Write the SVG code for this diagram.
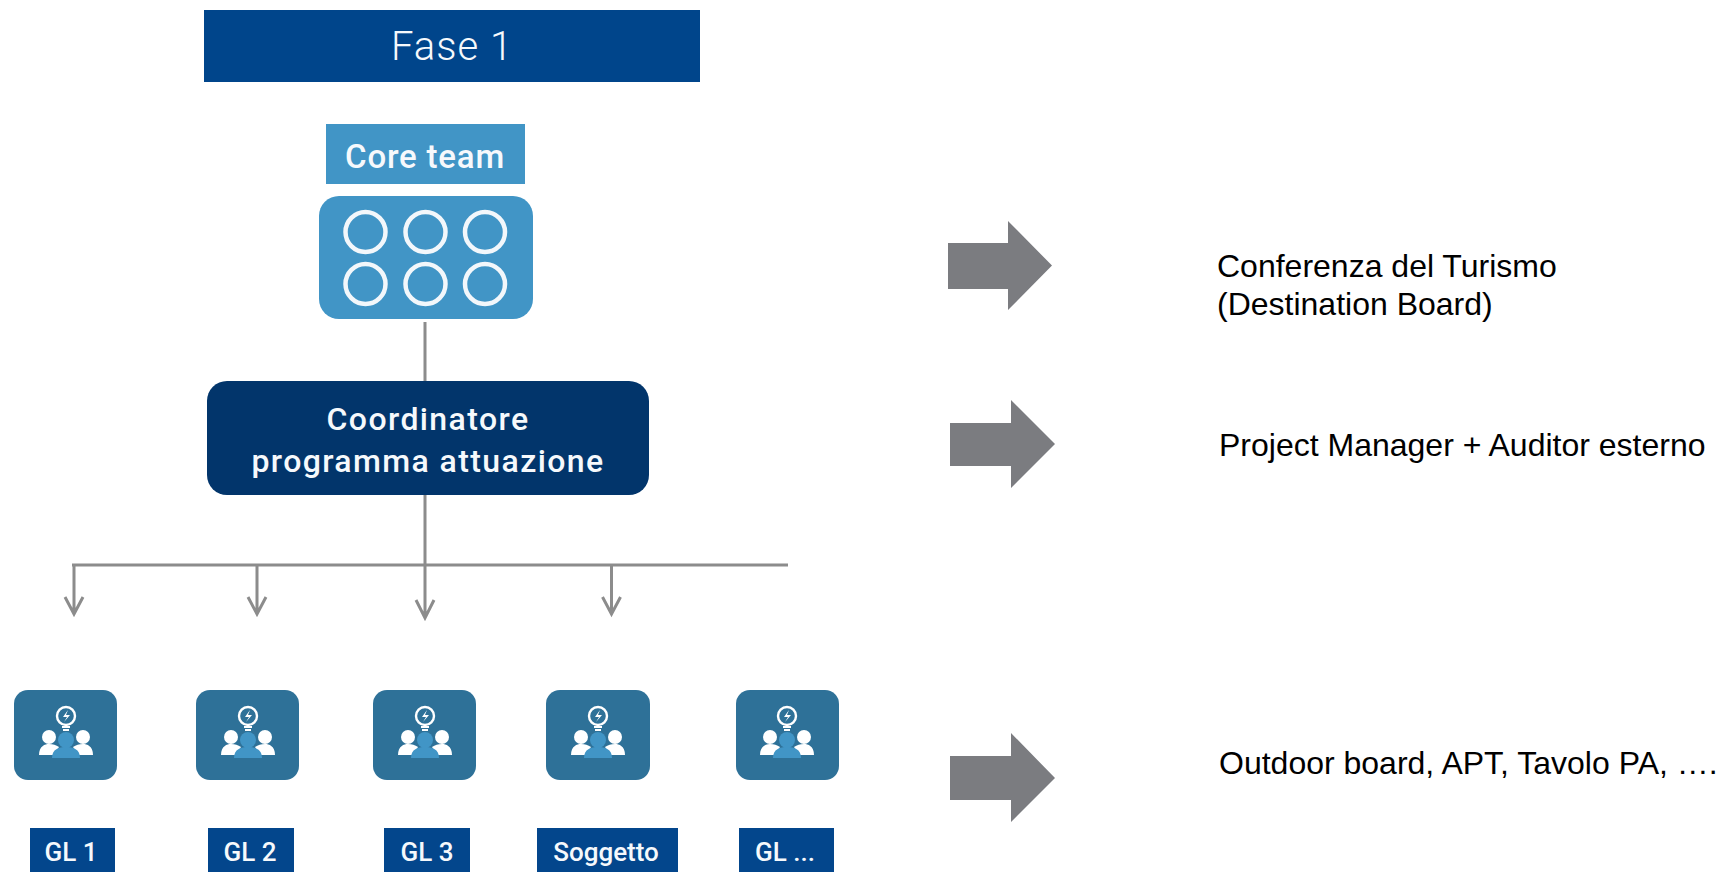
<svg xmlns="http://www.w3.org/2000/svg" xmlns:xlink="http://www.w3.org/1999/xlink" width="1727" height="872" viewBox="0 0 1727 872">
<style>
.din{font-family:Roboto,"Liberation Sans",sans-serif;fill:#f6f9fc;text-anchor:middle;font-weight:500}
.note{font-family:"Liberation Sans",Arial,sans-serif;fill:#000;font-size:32px}
.conn{fill:none;stroke:#8c8c8c;stroke-width:3}
.big{fill:#7b7c80}
.tile{fill:#2e7198}
.lab{fill:#03468c}
.ring{fill:none;stroke:#f2f7fb;stroke-width:4.5}
</style>
<defs>
<g id="icon">
<circle cx="0" cy="-21" r="9" fill="none" stroke="#fff" stroke-width="2.4"/>
<path d="M2-27l-5 7h4l-3 5 6-7h-4z" fill="#fff"/>
<path d="M-4-10h8M-3-7h6" stroke="#fff" stroke-width="2"/>
<circle cx="-17" cy="0" r="7" fill="#fff"/><circle cx="17" cy="0" r="7" fill="#fff"/>
<path d="M-27 18c0-9 6-11 10-11s7 1 10 3l-5 8zM27 18c0-9-6-11-10-11s-7 1-10 3l5 8z" fill="#fff"/>
<circle cx="0" cy="3" r="8" fill="#4195c6"/>
<path d="M-14 21c0-9 7-11 14-11s14 2 14 11z" fill="#4195c6"/>
</g>
</defs>
<rect width="1727" height="872" fill="#fff"/>
<g id="connectors">
<path class="conn" d="M425 322V381M425 494V565M72 565H788"/>
<path class="conn" d="M74 565V612M65 597l9 17 9-17M257 565V612M248 597l9 17 9-17M425 565V616M416 600l9 18 9-18M611.500 565V612M602.500 597l9 17 9-17"/>
</g>
<g id="fase"><rect x="204" y="10" width="496" height="72" fill="#00458b"/><text class="din" x="452" y="60" font-size="40" letter-spacing="1" style="font-weight:300">Fase 1</text></g>
<g id="core-label"><rect x="326" y="124" width="199" height="60" fill="#4195c6"/><text class="din" x="425" y="168" font-size="33" letter-spacing="0.800">Core team</text></g>
<g id="core-panel"><rect x="319" y="196" width="214" height="123" rx="20" fill="#4195c6"/>
<circle class="ring" cx="365.500" cy="232" r="20"/><circle class="ring" cx="425.500" cy="232" r="20"/><circle class="ring" cx="485" cy="232" r="20"/>
<circle class="ring" cx="365.500" cy="284" r="20"/><circle class="ring" cx="425.500" cy="284" r="20"/><circle class="ring" cx="485" cy="284" r="20"/></g>
<g id="coordinatore"><rect x="207" y="381" width="442" height="114" rx="20" fill="#02356b"/>
<text class="din" x="428" y="430" font-size="32" letter-spacing="1.400">Coordinatore</text><text class="din" x="428" y="472" font-size="32" letter-spacing="1.400">programma attuazione</text></g>
<g id="gl1"><rect class="tile" x="14" y="690" width="103" height="90" rx="14"/><use xlink:href="#icon" href="#icon" x="66" y="737"/><rect class="lab" x="30" y="828" width="85" height="44"/><text class="din" x="71" y="861" font-size="26">GL 1</text></g>
<g id="gl2"><rect class="tile" x="196" y="690" width="103" height="90" rx="14"/><use xlink:href="#icon" href="#icon" x="248" y="737"/><rect class="lab" x="208" y="828" width="86" height="44"/><text class="din" x="250" y="861" font-size="26">GL 2</text></g>
<g id="gl3"><rect class="tile" x="373" y="690" width="103" height="90" rx="14"/><use xlink:href="#icon" href="#icon" x="425" y="737"/><rect class="lab" x="384" y="828" width="86" height="44"/><text class="din" x="427" y="861" font-size="26">GL 3</text></g>
<g id="soggetto"><rect class="tile" x="546" y="690" width="104" height="90" rx="14"/><use xlink:href="#icon" href="#icon" x="598" y="737"/><rect class="lab" x="537" y="828" width="141" height="44"/><text class="din" x="606" y="861" font-size="26">Soggetto</text></g>
<g id="gln"><rect class="tile" x="736" y="690" width="103" height="90" rx="14"/><use xlink:href="#icon" href="#icon" x="787" y="737"/><rect class="lab" x="739" y="828" width="95" height="44"/><text class="din" x="785" y="861" font-size="26">GL ...</text></g>
<g id="arrow1"><polygon class="big" points="948,243 1008,243 1008,221 1052,265.500 1008,310 1008,289 948,289"/></g>
<g id="arrow2"><polygon class="big" points="950,423 1011,423 1011,400 1055,444 1011,488 1011,466 950,466"/></g>
<g id="arrow3"><polygon class="big" points="950,756 1011,756 1011,733 1055,778 1011,822 1011,800 950,800"/></g>
<g id="note1"><text class="note" x="1217" y="277">Conferenza del Turismo</text><text class="note" x="1217" y="315">(Destination Board)</text></g>
<g id="note2"><text class="note" x="1219" y="456">Project Manager + Auditor esterno</text></g>
<g id="note3"><text class="note" x="1219" y="774">Outdoor board, APT, Tavolo PA, ….</text></g>
</svg>
